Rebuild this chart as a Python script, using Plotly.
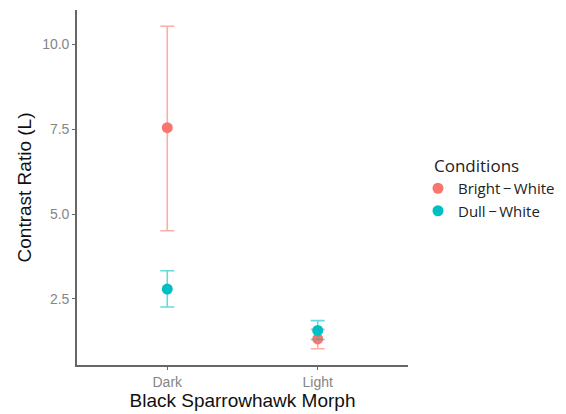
import plotly.graph_objects as go

# Mean contrast ratio with upper/lower interval bounds, per morph
morphs = ["Dark", "Light"]
conditions = ["Bright\u2009\u2212\u2009White", "Dull\u2009\u2212\u2009White"]
bright_mean = [7.55, 1.32]
bright_upper = [10.54, 1.60]
bright_lower = [4.51, 1.03]
dull_mean = [2.79, 1.57]
dull_upper = [3.33, 1.86]
dull_lower = [2.26, 1.30]

series = [
    (conditions[0], bright_mean, bright_upper, bright_lower, "#F8766D", "rgba(248,118,109,0.6)"),
    (conditions[1], dull_mean, dull_upper, dull_lower, "#00BFC4", "rgba(0,191,196,0.6)"),
]

fig = go.Figure()
for name, mean, up, lo, col, ecol in series:
    fig.add_trace(go.Scatter(
        x=[1, 2], y=mean, mode="markers", name=name,
        marker=dict(color=col, size=11),
        error_y=dict(type="data", symmetric=False,
                     array=[u - m for u, m in zip(up, mean)],
                     arrayminus=[m - l for m, l in zip(mean, lo)],
                     color=ecol, thickness=1.6, width=7),
    ))

axis_font = dict(family="Liberation Sans, Arial", size=19, color="#111")
tick_font = dict(family="Liberation Sans, Arial", size=14, color="#858585")

# legend heading drawn as text so it can sit to the right of the symbols
fig.add_annotation(
    text="Conditions", xref="paper", yref="paper",
    x=(432 - 77) / 331, y=1 - (165 - 10) / 355,
    xanchor="left", yanchor="middle", showarrow=False,
    font=dict(family="Open Sans", size=17, color="#222"),
)

fig.update_layout(
    width=566, height=414,
    margin=dict(l=77, r=158, t=10, b=49),
    paper_bgcolor="white", plot_bgcolor="white",
    showlegend=True,
    legend=dict(
        font=dict(family="Open Sans", size=15, color="#222"),
        xref="container", yref="container", x=418 / 566, y=1 - 172 / 414,
        xanchor="left", yanchor="top", tracegroupgap=0, itemwidth=30,
        bgcolor="rgba(0,0,0,0)",
    ),
    xaxis=dict(
        range=[0.4, 2.6], tickmode="array", tickvals=[1, 2], ticktext=morphs,
        showgrid=False, zeroline=False, showline=True, linecolor="#666", linewidth=1.6,
        ticks="outside", ticklen=3, tickcolor="#666", tickfont=tick_font,
        title=dict(text="Black Sparrowhawk Morph", font=axis_font, standoff=1),
    ),
    yaxis=dict(
        range=[0.55, 11.02], tickvals=[2.5, 5.0, 7.5, 10.0],
        ticktext=["2.5", "5.0", "7.5", "10.0"],
        showgrid=False, zeroline=False, showline=True, linecolor="#666", linewidth=1.6,
        ticks="outside", ticklen=3, tickcolor="#666", tickfont=tick_font,
        title=dict(text="Contrast Ratio (L)", font=axis_font, standoff=6),
    ),
)

fig.write_html("out.html")
